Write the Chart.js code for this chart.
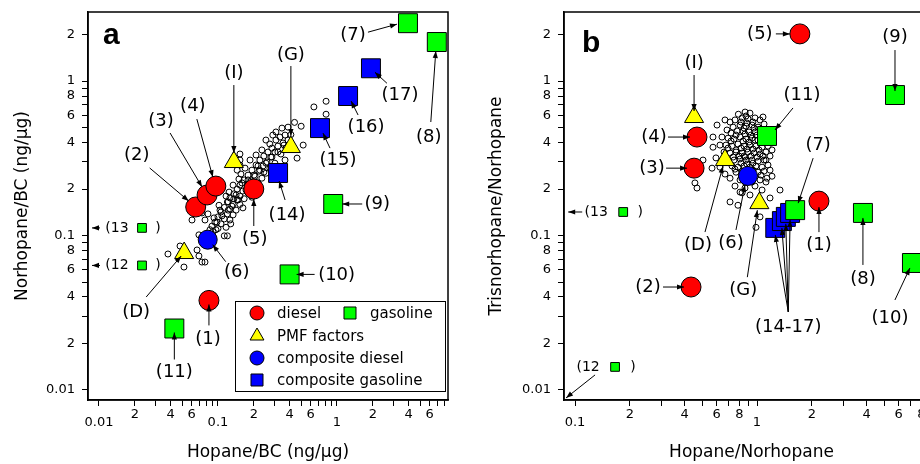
<!DOCTYPE html>
<html>
<head>
<meta charset="utf-8">
<script src="https://cdn.jsdelivr.net/npm/chart.js@4.4.1/dist/chart.umd.min.js"></script>
<style>
html, body { margin: 0; padding: 0; background: #fff; overflow: hidden; width: 920px; height: 464px; position: relative; }
canvas { position: absolute; top: 0; }
</style>
</head>
<body>
<canvas id="chartA" width="460" height="464" style="left:0px"></canvas>
<canvas id="chartB" width="480" height="464" style="left:460px"></canvas>
<script>
var FONT = '"DejaVu Sans", sans-serif';

// ---------- panel a : Hopane/BC vs Norhopane/BC ----------
var aDieselLbl = ['(1)', '(2)', '(3)', '(4)', '(5)'];
var aDieselX = [0.084, 0.065, 0.081, 0.096, 0.20];
var aDieselY = [0.038, 0.153, 0.183, 0.209, 0.200];

var aGasLbl = ['(7)', '(8)', '(9)', '(10)', '(11)'];
var aGasX = [3.95, 6.9, 0.93, 0.40, 0.043];
var aGasY = [2.37, 1.79, 0.160, 0.056, 0.025];

// off-scale gasoline samples, drawn small with an arrow to the axis
var aOffLbl = ['(12', '(13'];
var aOffX = [0.023, 0.023];
var aOffY = [0.064, 0.112];

var aPmfLbl = ['(D)', '(G)', '(I)'];
var aPmfX = [0.052, 0.41, 0.136];
var aPmfY = [0.077, 0.374, 0.299];

var aCompDieselLbl = ['(6)'];
var aCompDieselX = [0.082];
var aCompDieselY = [0.094];

var aCompGasLbl = ['(14)', '(15)', '(16)', '(17)'];
var aCompGasX = [0.32, 0.72, 1.24, 1.93];
var aCompGasY = [0.254, 0.496, 0.80, 1.21];

// ambient samples
var aAmbX = [
  0.64, 0.81, 0.81, 0.44, 0.50, 0.52, 0.41, 0.366, 0.332, 0.307,
  0.388, 0.352, 0.319, 0.284, 0.373, 0.263, 0.301, 0.338, 0.243, 0.278,
  0.462, 0.225, 0.258, 0.301, 0.209, 0.239, 0.273, 0.193, 0.221, 0.253,
  0.179, 0.205, 0.234, 0.166, 0.190, 0.217, 0.153, 0.176, 0.145, 0.162,
  0.136, 0.153, 0.126, 0.145, 0.166, 0.120, 0.134, 0.153, 0.113, 0.126,
  0.142, 0.106, 0.120, 0.134, 0.100, 0.113, 0.126, 0.0944, 0.106, 0.089,
  0.100, 0.117, 0.0824, 0.0734, 0.0605, 0.0778, 0.0857, 0.0962, 0.113, 0.120,
  0.0692, 0.0908, 0.038, 0.048, 0.0518, 0.0667, 0.0692, 0.0734, 0.0778, 0.186,
  0.169, 0.156, 0.209, 0.234, 0.273, 0.307, 0.345, 0.153, 0.145, 0.179,
  0.193, 0.217, 0.243, 0.124, 0.117, 0.134, 0.150, 0.289, 0.388, 0.253,
  0.162, 0.102, 0.128, 0.153, 0.366, 0.153, 0.186, 0.142, 0.172, 0.131,
  0.122, 0.108, 0.098, 0.148, 0.201, 0.225, 0.253, 0.284, 0.319, 0.359,
  0.159, 0.179, 0.122, 0.136, 0.104, 0.0926
];
var aAmbY = [
  0.68, 0.74, 0.61, 0.54, 0.51, 0.385, 0.45, 0.447, 0.434, 0.415,
  0.415, 0.397, 0.379, 0.368, 0.368, 0.347, 0.347, 0.337, 0.327, 0.322,
  0.317, 0.308, 0.299, 0.294, 0.286, 0.282, 0.273, 0.265, 0.261, 0.253,
  0.246, 0.242, 0.235, 0.229, 0.226, 0.219, 0.212, 0.209, 0.200, 0.194,
  0.186, 0.180, 0.175, 0.170, 0.173, 0.165, 0.159, 0.159, 0.152, 0.148,
  0.146, 0.142, 0.138, 0.136, 0.132, 0.128, 0.126, 0.122, 0.119, 0.115,
  0.111, 0.113, 0.138, 0.140, 0.126, 0.126, 0.109, 0.109, 0.0995, 0.0995,
  0.101, 0.106, 0.0759, 0.0855, 0.0625, 0.0806, 0.0737, 0.0673, 0.0673, 0.308,
  0.273, 0.250, 0.332, 0.358, 0.391, 0.468, 0.496, 0.308, 0.265, 0.189,
  0.177, 0.282, 0.257, 0.191, 0.180, 0.212, 0.232, 0.447, 0.503, 0.415,
  0.151, 0.157, 0.119, 0.286, 0.308, 0.337, 0.212, 0.183, 0.197, 0.155,
  0.146, 0.134, 0.122, 0.170, 0.246, 0.265, 0.294, 0.322, 0.347, 0.385,
  0.219, 0.229, 0.165, 0.173, 0.146, 0.130
];

var aXTicks = [0.01, 0.02, 0.03, 0.04, 0.05, 0.06, 0.07, 0.08, 0.09,
  0.1, 0.2, 0.3, 0.4, 0.5, 0.6, 0.7, 0.8, 0.9, 1, 2, 3, 4, 5, 6, 7, 8];
var aXTickLbl = ['0.01', '2', '', '4', '', '6', '', '', '',
  '0.1', '2', '', '4', '', '6', '', '', '', '1', '2', '', '4', '', '6', '', ''];

// ---------- panel b : Hopane/Norhopane vs Trisnorhopane/Norhopane ----------
var bDieselLbl = ['(1)', '(2)', '(3)', '(4)', '(5)'];
var bDieselX = [2.19, 0.434, 0.451, 0.468, 1.72];
var bDieselY = [0.167, 0.0464, 0.273, 0.434, 2.02];

var bGasLbl = ['(7)', '(8)', '(9)', '(10)', '(11)'];
var bGasX = [1.62, 3.82, 5.73, 7.1, 1.135];
var bGasY = [0.146, 0.140, 0.812, 0.0664, 0.441];

var bOffLbl = ['(12', '(13'];
var bOffX = [0.166, 0.184];
var bOffY = [0.0141, 0.142];

var bPmfLbl = ['(D)', '(G)', '(I)'];
var bPmfX = [0.667, 1.03, 0.451];
var bPmfY = [0.308, 0.162, 0.585];

var bCompDieselLbl = ['(6)'];
var bCompDieselX = [0.892];
var bCompDieselY = [0.243];

var bCompGasLbl = ['(14)', '(15)', '(16)', '(17)'];
var bCompGasX = [1.26, 1.37, 1.44, 1.52];
var bCompGasY = [0.112, 0.124, 0.132, 0.140];

var bAmbX = [
  0.79, 0.86, 0.915, 0.828, 0.892, 0.975, 1.039, 1.079, 0.711, 0.757,
  0.667, 0.603, 0.739, 0.807, 0.870, 0.939, 1.013, 1.093, 0.684, 0.720,
  0.777, 0.838, 0.904, 0.975, 1.052, 0.573, 0.642, 0.693, 0.748, 0.807,
  0.870, 0.939, 1.013, 1.093, 0.573, 0.626, 0.675, 0.729, 0.786, 0.849,
  0.915, 0.987, 1.066, 1.149, 0.659, 0.711, 0.767, 0.828, 0.892, 0.963,
  1.039, 1.120, 0.693, 0.748, 0.807, 0.870, 0.939, 1.013, 1.093, 1.179,
  0.626, 0.729, 0.786, 0.849, 0.915, 0.987, 1.066, 1.149, 0.505, 0.767,
  0.828, 1.013, 1.093, 1.179, 1.209, 0.711, 0.807, 1.039, 1.120, 0.859,
  0.757, 0.975, 1.066, 1.338, 0.711, 0.786, 1.039, 0.987, 1.179, 0.915,
  0.828, 0.456, 0.468, 0.807, 0.859, 0.939, 0.566, 0.595, 0.870, 0.963,
  0.767, 0.849, 1.120, 1.209, 1.194, 0.667, 0.817, 0.881, 0.950, 0.849,
  0.767, 0.859, 0.927, 1.0, 0.720, 0.838, 0.904, 0.975, 1.052, 0.693,
  0.817, 0.881, 0.950, 1.026, 0.739, 0.797, 0.859, 0.927, 1.0, 1.079,
  0.817, 0.881, 0.950, 0.757, 0.881, 0.950, 1.052, 1.134
];
var bAmbY = [
  0.61, 0.63, 0.620, 0.577, 0.569, 0.577, 0.560, 0.585, 0.543, 0.560,
  0.560, 0.519, 0.503, 0.519, 0.511, 0.519, 0.503, 0.527, 0.482, 0.461,
  0.475, 0.475, 0.468, 0.468, 0.475, 0.434, 0.434, 0.427, 0.421, 0.434,
  0.421, 0.427, 0.415, 0.427, 0.373, 0.385, 0.385, 0.379, 0.391, 0.379,
  0.385, 0.379, 0.373, 0.379, 0.347, 0.342, 0.347, 0.342, 0.347, 0.342,
  0.337, 0.347, 0.308, 0.308, 0.313, 0.308, 0.308, 0.303, 0.308, 0.327,
  0.277, 0.282, 0.277, 0.282, 0.277, 0.282, 0.277, 0.286, 0.308, 0.257,
  0.261, 0.257, 0.261, 0.265, 0.242, 0.235, 0.229, 0.229, 0.222, 0.203,
  0.209, 0.209, 0.197, 0.197, 0.165, 0.157, 0.132, 0.113, 0.175, 0.183,
  0.189, 0.219, 0.203, 0.191, 0.222, 0.222, 0.273, 0.318, 0.594, 0.496,
  0.358, 0.327, 0.308, 0.358, 0.415, 0.250, 0.543, 0.535, 0.543, 0.496,
  0.447, 0.454, 0.447, 0.447, 0.409, 0.409, 0.403, 0.415, 0.403, 0.368,
  0.368, 0.363, 0.363, 0.358, 0.322, 0.327, 0.322, 0.327, 0.322, 0.327,
  0.294, 0.290, 0.294, 0.269, 0.261, 0.265, 0.246, 0.235
];

var bXTicks = [0.1, 0.2, 0.3, 0.4, 0.5, 0.6, 0.7, 0.8, 0.9,
  1, 2, 3, 4, 5, 6, 7, 8, 9];
var bXTickLbl = ['0.1', '2', '', '4', '', '6', '', '8', '',
  '1', '2', '', '4', '', '6', '', '8', ''];

// y ticks are the same in both panels
var yTicks = [0.01, 0.02, 0.03, 0.04, 0.05, 0.06, 0.07, 0.08, 0.09,
  0.1, 0.2, 0.3, 0.4, 0.5, 0.6, 0.7, 0.8, 0.9, 1, 2];
var yTickLbl = ['0.01', '2', '', '4', '', '6', '', '8', '',
  '0.1', '2', '', '4', '', '6', '', '8', '', '1', '2'];

// label placement (pixel offsets from the marker; arrow from -> to)
var aNotes = [
  { ref: '(7)', tx: -55, ty: 12, from: [-40, 9], to: [-11, 1] },
  { ref: '(8)', tx: -8, ty: 95, from: [-6, 80], to: [-1, 9] },
  { ref: '(17)', tx: 29, ty: 27, from: [16, 15], to: [4, 4] },
  { ref: '(16)', tx: 18, ty: 31, from: [10, 19], to: [3, 5] },
  { ref: '(15)', tx: 18, ty: 32, from: [10, 20], to: [3, 5] },
  { ref: '(14)', tx: 9, ty: 42, from: [7, 27], to: [1, 8] },
  { ref: '(9)', tx: 44, ty: 0, from: [29, 0], to: [9, 0] },
  { ref: '(G)', tx: 0, ty: -92, from: [0, -81], to: [0, -11] },
  { ref: '(I)', tx: 0, ty: -89, from: [0, -77], to: [0, -9] },
  { ref: '(4)', tx: -23, ty: -80, from: [-19, -67], to: [-3, -9] },
  { ref: '(3)', tx: -46, ty: -74, from: [-37, -62], to: [-5, -8] },
  { ref: '(2)', tx: -59, ty: -52, from: [-46, -39], to: [-7, -6] },
  { ref: '(5)', tx: 1, ty: 50, from: [0, 37], to: [0, 10] },
  { ref: '(6)', tx: 29, ty: 33, from: [18, 22], to: [5, 5] },
  { ref: '(D)', tx: -48, ty: 59, from: [-38, 44], to: [-3, 3] },
  { ref: '(1)', tx: -1, ty: 39, from: [0, 25], to: [0, 4] },
  { ref: '(10)', tx: 47, ty: 1, from: [25, 0], to: [7, 0] },
  { ref: '(11)', tx: 0, ty: 44, from: [0, 31], to: [0, 4] },
  { ref: '(12', tx: -25, ty: 0, close: 16, small: true, from: [-42, 0], to: [-50, 0] },
  { ref: '(13', tx: -25, ty: 0, close: 16, small: true, from: [-42, 0], to: [-50, 0] }
];
var bNotes = [
  { ref: '(5)', tx: -40, ty: 0, from: [-24, 0], to: [-10, 0] },
  { ref: '(9)', tx: 0, ty: -58, from: [0, -45], to: [0, -4] },
  { ref: '(I)', tx: 0, ty: -54, from: [0, -42], to: [0, -6] },
  { ref: '(11)', tx: 35, ty: -41, from: [26, -28], to: [8, -6] },
  { ref: '(4)', tx: -43, ty: 0, from: [-29, 0], to: [-7, 0] },
  { ref: '(3)', tx: -42, ty: 0, from: [-28, 0], to: [-7, 0] },
  { ref: '(D)', tx: -27, ty: 85, from: [-20, 72], to: [-2, 6] },
  { ref: '(6)', tx: -17, ty: 67, from: [-12, 54], to: [-3, 9] },
  { ref: '(G)', tx: -16, ty: 87, from: [-12, 74], to: [-2, 7] },
  { ref: '(7)', tx: 23, ty: -65, from: [18, -52], to: [3, -7] },
  { ref: '(1)', tx: 0, ty: 44, from: [0, 31], to: [0, 6] },
  { ref: '(8)', tx: 0, ty: 66, from: [0, 52], to: [0, 5] },
  { ref: '(10)', tx: -22, ty: 55, from: [-17, 37], to: [-2, 5] },
  { ref: '(2)', tx: -43, ty: 0, from: [-28, 0], to: [-7, 0] },
  { ref: '(14)', text: '(14-17)', tx: 13, ty: 99, from: [13, 84], to: [0, 7],
    targets: ['(14)', '(15)', '(16)', '(17)'] },
  { ref: '(12', tx: -27, ty: 0, close: 18, small: true, from: [-20, 8], to: [-49, 31] },
  { ref: '(13', tx: -27, ty: 0, close: 17, small: true, from: [-41, 0], to: [-55, 0] }
];

var RED = '#ff0000', GREEN = '#00ff00', YELLOW = '#ffff00', BLUE = '#0000ff';

function pts(lbls, xs, ys) {
  return xs.map(function (x, i) { return { x: x, y: ys[i], lbl: lbls ? lbls[i] : '' }; });
}

function marker(style, color, r) {
  return { pointStyle: style, backgroundColor: color, borderColor: '#000',
    borderWidth: 1, pointRadius: r, pointHoverRadius: r, showLine: false };
}

function shape(ctx, style, r, x, y) {
  ctx.beginPath();
  if (style === 'circle') {
    ctx.arc(x, y, r, 0, Math.PI * 2);
  } else if (style === 'rect') {
    var s = r * Math.SQRT1_2;
    ctx.rect(x - s, y - s, 2 * s, 2 * s);
  } else {
    ctx.moveTo(x, y - r);
    ctx.lineTo(x + r * Math.sin(Math.PI * 2 / 3), y + r / 2);
    ctx.lineTo(x - r * Math.sin(Math.PI * 2 / 3), y + r / 2);
    ctx.closePath();
  }
  ctx.fill();
  ctx.stroke();
}

function arrow(ctx, x1, y1, x2, y2) {
  ctx.beginPath();
  ctx.moveTo(x1, y1);
  ctx.lineTo(x2, y2);
  ctx.stroke();
  var a = Math.atan2(y2 - y1, x2 - x1), L = 7, W = 2.6;
  ctx.beginPath();
  ctx.moveTo(x2, y2);
  ctx.lineTo(x2 - L * Math.cos(a) + W * Math.sin(a), y2 - L * Math.sin(a) - W * Math.cos(a));
  ctx.lineTo(x2 - L * Math.cos(a) - W * Math.sin(a), y2 - L * Math.sin(a) + W * Math.cos(a));
  ctx.closePath();
  ctx.fill();
}

function decoPlugin(p) {
  return {
    id: 'deco',
    afterDatasetsDraw: function (chart) {
      var ctx = chart.ctx, ca = chart.chartArea;
      var sx = chart.scales.x, sy = chart.scales.y;
      var marks = {};
      chart.data.datasets.forEach(function (ds) {
        ds.data.forEach(function (d) { if (d.lbl) marks[d.lbl] = d; });
      });
      ctx.save();
      ctx.strokeStyle = '#000';
      ctx.fillStyle = '#000';
      // frame
      ctx.lineWidth = 1.5;
      ctx.strokeRect(ca.left, ca.top, ca.right - ca.left, ca.bottom - ca.top);
      // labels and arrows
      ctx.lineWidth = 1;
      ctx.textAlign = 'center';
      ctx.textBaseline = 'middle';
      p.notes.forEach(function (n) {
        var m = marks[n.ref];
        var x0 = sx.getPixelForValue(m.x), y0 = sy.getPixelForValue(m.y);
        ctx.font = (n.small ? 14 : 18) + 'px ' + FONT;
        ctx.fillText(n.text || n.ref, x0 + n.tx, y0 + n.ty);
        if (n.close !== undefined) ctx.fillText(')', x0 + n.close, y0 + n.ty);
        (n.targets || [n.ref]).forEach(function (t) {
          var mt = marks[t];
          arrow(ctx, x0 + n.from[0], y0 + n.from[1],
            sx.getPixelForValue(mt.x) + n.to[0], sy.getPixelForValue(mt.y) + n.to[1]);
        });
      });
      // panel letter
      ctx.textAlign = 'left';
      ctx.textBaseline = 'alphabetic';
      ctx.font = 'bold 30px "Liberation Sans", Arial, sans-serif';
      ctx.fillText(p.letter, ca.left + p.letterDx, ca.top + p.letterDy);
      // legend
      if (p.legend) {
        var bx = ca.right - 213, by = ca.bottom - 99;
        ctx.fillStyle = '#fff';
        ctx.fillRect(bx, by, 210, 90);
        ctx.lineWidth = 1;
        ctx.strokeRect(bx + 0.5, by + 0.5, 210, 90);
        var rows = [
          ['circle', RED, 7, 22, 12, 'diesel'],
          ['rect', GREEN, 8.5, 115, 12, 'gasoline'],
          ['triangle', YELLOW, 8, 22, 35, 'PMF factors'],
          ['circle', BLUE, 7, 22, 57, 'composite diesel'],
          ['rect', BLUE, 8.5, 22, 79, 'composite gasoline']
        ];
        ctx.font = '15px ' + FONT;
        ctx.textBaseline = 'middle';
        rows.forEach(function (r) {
          ctx.fillStyle = r[1];
          ctx.strokeStyle = '#000';
          shape(ctx, r[0], r[2], bx + r[3], by + r[4]);
          ctx.fillStyle = '#000';
          ctx.fillText(r[5], bx + r[3] + 20, by + r[4] + 1);
        });
      }
      ctx.restore();
    }
  };
}

function logAxis(o) {
  var isX = o.axis === 'x';
  return {
    type: 'logarithmic',
    position: isX ? 'bottom' : 'left',
    min: o.min,
    max: o.max,
    afterBuildTicks: function (s) { s.ticks = o.ticks.map(function (v) { return { value: v }; }); },
    afterFit: function (s) {
      // fixed axis box, no extra room for overhanging labels
      if (isX) { s.height = o.size; } else { s.width = o.size; }
      s.paddingLeft = 0; s.paddingRight = 0; s.paddingTop = 0; s.paddingBottom = 0;
    },
    ticks: {
      autoSkip: false,
      maxRotation: 0,
      minRotation: 0,
      padding: isX ? 4 : 7,
      color: '#000',
      font: { family: FONT, size: 13, lineHeight: isX ? 0.65 : 1.2 },
      callback: function (v, i) {
        var t = o.labels[i];
        if (isX && (t.indexOf('.') >= 0 || t === '1')) return ['', t];
        return t;
      }
    },
    grid: { display: true, drawOnChartArea: false, drawTicks: true, tickLength: 6,
      tickColor: '#000', tickWidth: 1 },
    border: { display: true, color: '#000', width: 1.5 },
    title: {
      display: true,
      text: o.title,
      color: '#000',
      font: { family: FONT, size: 17 },
      padding: isX ? { top: 0, bottom: 1 } : { top: o.titlePad, bottom: 0 }
    }
  };
}

function makePanel(id, p) {
  var datasets = [
    Object.assign({ data: pts(p.gasLbl, p.gasX, p.gasY) }, marker('rect', GREEN, 13.4)),
    Object.assign({ data: pts(p.dieselLbl, p.dieselX, p.dieselY) }, marker('circle', RED, 10)),
    Object.assign({ data: pts(p.pmfLbl, p.pmfX, p.pmfY) }, marker('triangle', YELLOW, 11)),
    Object.assign({ data: pts(p.cdLbl, p.cdX, p.cdY) }, marker('circle', BLUE, 9.5)),
    Object.assign({ data: pts(p.cgLbl, p.cgX, p.cgY) }, marker('rect', BLUE, 13.4)),
    Object.assign({ data: pts(p.offLbl, p.offX, p.offY) }, marker('rect', GREEN, 6.2)),
    Object.assign({ data: pts(null, p.ambX, p.ambY) }, marker('circle', 'rgba(255,255,255,0)', 3))
  ];
  return new Chart(document.getElementById(id).getContext('2d'), {
    type: 'scatter',
    data: { datasets: datasets },
    options: {
      responsive: false,
      animation: false,
      events: [],
      layout: { autoPadding: false, padding: { top: 12, right: p.padRight, left: 0, bottom: 0 } },
      plugins: { legend: { display: false }, tooltip: { enabled: false } },
      scales: {
        x: logAxis({ axis: 'x', min: p.xMin, max: p.xMax, ticks: p.xTicks, labels: p.xLabels,
          size: 64, title: p.xTitle }),
        y: logAxis({ axis: 'y', min: 0.00861, max: 2.80, ticks: yTicks, labels: yTickLbl,
          size: p.yWidth, title: p.yTitle, titlePad: p.yTitlePad })
      }
    },
    plugins: [decoPlugin(p)]
  });
}

makePanel('chartA', {
  gasLbl: aGasLbl, gasX: aGasX, gasY: aGasY,
  dieselLbl: aDieselLbl, dieselX: aDieselX, dieselY: aDieselY,
  pmfLbl: aPmfLbl, pmfX: aPmfX, pmfY: aPmfY,
  cdLbl: aCompDieselLbl, cdX: aCompDieselX, cdY: aCompDieselY,
  cgLbl: aCompGasLbl, cgX: aCompGasX, cgY: aCompGasY,
  offLbl: aOffLbl, offX: aOffX, offY: aOffY,
  ambX: aAmbX, ambY: aAmbY,
  xMin: 0.00809, xMax: 8.57, xTicks: aXTicks, xLabels: aXTickLbl,
  xTitle: 'Hopane/BC (ng/\u03bcg)', yTitle: 'Norhopane/BC (ng/\u03bcg)',
  yWidth: 88, yTitlePad: 12, padRight: 12,
  notes: aNotes, letter: 'a', letterDx: 15, letterDy: 32, legend: true
});

makePanel('chartB', {
  gasLbl: bGasLbl, gasX: bGasX, gasY: bGasY,
  dieselLbl: bDieselLbl, dieselX: bDieselX, dieselY: bDieselY,
  pmfLbl: bPmfLbl, pmfX: bPmfX, pmfY: bPmfY,
  cdLbl: bCompDieselLbl, cdX: bCompDieselX, cdY: bCompDieselY,
  cgLbl: bCompGasLbl, cgX: bCompGasX, cgY: bCompGasY,
  offLbl: bOffLbl, offX: bOffX, offY: bOffY,
  ambX: bAmbX, ambY: bAmbY,
  xMin: 0.087, xMax: 10, xTicks: bXTicks, xLabels: bXTickLbl,
  xTitle: 'Hopane/Norhopane', yTitle: 'Trisnorhopane/Norhopane',
  yWidth: 104, yTitlePad: 26, padRight: 1,
  notes: bNotes, letter: 'b', letterDx: 18, letterDy: 40, legend: false
});
</script>
</body>
</html>
